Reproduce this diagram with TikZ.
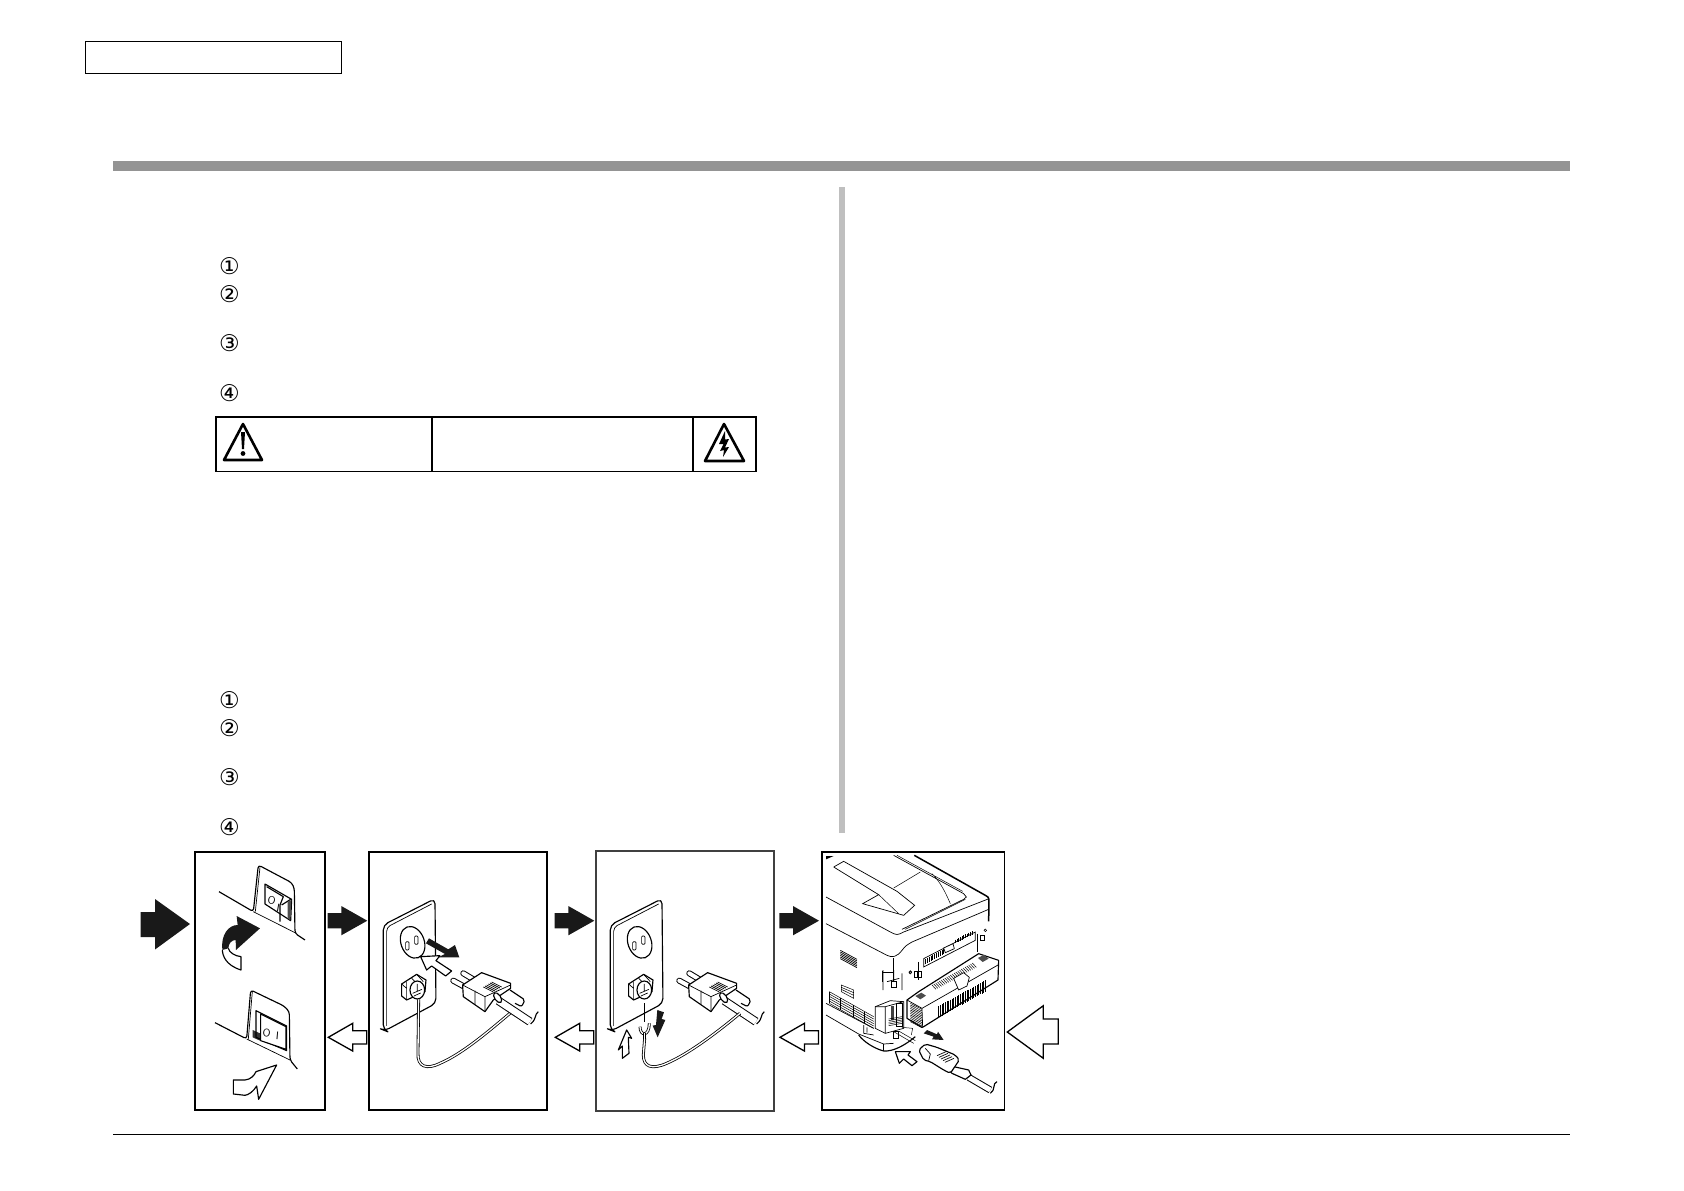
\documentclass[tikz,border=0pt]{standalone}
\usepackage{fontspec}
\newfontfamily\circfont{DejaVu Sans}
\tikzset{
  panel/.style={draw, line width=1.8pt},
  frame/.style={draw, line width=0.9pt},
  rule/.style={fill=black!42},
  solidarrow/.style={fill=black!90},
  openarrow/.style={draw, fill=white, line width=1.3pt, miter limit=8},
  sketch/.style={line width=1.15pt, line join=round},
  fine/.style={line width=0.7pt},
  hair/.style={line width=0.5pt},
  wire/.style={double=white, double distance=1.3pt, line width=0.8pt},
  cable/.style={double=white, double distance=6.5pt, line width=1pt},
  digit/.style={font=\circfont\fontsize{23}{26}\selectfont, inner sep=0pt},
  rocker/.style={font=\sffamily\fontsize{11}{11}\selectfont, inner sep=0pt},
  figa/.style={shift={(130,840)}, x=0.3333pt, y=-0.3333pt},
  figb/.style={shift={(560,840)}, x=0.3333pt, y=-0.3333pt},
  figc/.style={shift={(822,852)}, x=0.3333pt, y=-0.3333pt},
  figd/.style={shift={(822,970)}, x=0.3333pt, y=-0.3333pt}
}
% socket plate and plug, used twice
\newcommand{\wallplate}{
  \draw[sketch, fill=white, rounded corners=5pt] (760,570) -- (760,255) -- (915,176) -- (918,490) -- (765,572) -- cycle;
  \draw[fine, rounded corners=4pt] (770,558) -- (770,262) -- (905,192);
  \draw[sketch, rotate around={20:(848,307)}] (848,307) ellipse (35 and 49);
  \draw[fine, rounded corners=1pt] (827,305) rectangle (837,330);
  \draw[fine, rounded corners=1pt] (854,288) rectangle (864,313);
  \draw[sketch, fill=white] (815,432) -- (860,403) -- (888,420) -- (885,455) -- (830,480) -- (815,468) -- cycle;
  \draw[fine] (830,425) -- (830,478) (815,432) -- (830,445) (845,415) -- (860,430) (860,403) -- (880,425);
  \draw[sketch, fill=white] (862,450) ellipse (22 and 27);
  \draw[fine] (862,432) -- (862,455) (848,460) -- (876,448) (852,468) -- (872,459);
}
\newcommand{\plugbody}{
  \draw[line width=6pt, line cap=round] (1000,400) -- (1030,418) (970,422) -- (1003,440);
  \draw[white, line width=4pt, line cap=round] (1000,400) -- (1030,418) (970,422) -- (1003,440);
  \draw[sketch, rounded corners=2pt] (1140,450) -- (1185,480) -- (1175,500) -- (1155,490);
  \draw[cable] (1105,482) -- (1200,545);
  \draw[sketch] (1225,515) .. controls (1212,525) and (1222,535) .. (1202,552);
  \draw[sketch, fill=white, line join=round] (998,435) -- (1055,398) -- (1142,430) -- (1142,445) -- (1090,480) -- (1065,515) -- (1000,470) -- cycle;
  \draw[fine] (998,435) -- (1065,470) -- (1065,515) (1065,470) -- (1142,435) (1035,452) -- (1035,493);
  \foreach \i in {0,...,5}
    \draw[fine] (1060+5*\i,441-3*\i) -- (1090+5*\i,456-3*\i);
  \draw[sketch, fill=white, rotate around={35:(1103,473)}] (1103,473) ellipse (9 and 17);
}
\begin{document}
\begin{tikzpicture}[x=1pt, y=-1pt]
    \useasboundingbox (0,0) rectangle (1684,1191);
    % page furniture
    \draw[frame] (85,41) rectangle (341.5,73);
    \fill[rule] (113,161) rectangle (1570,171);
    \fill[black!25] (839,187) rectangle (845,833);
    \draw[fine] (113,1134) -- (1570,1134);
    % numbered steps
    \node[digit] (onea) at (229.5,266) {①};
    \node[digit] (twoa) at (229.5,294) {②};
    \node[digit] (threea) at (229.5,343) {③};
    \node[digit] (foura) at (229.5,393) {④};
    \node[digit] (oneb) at (229.5,700) {①};
    \node[digit] (twob) at (229.5,728) {②};
    \node[digit] (threeb) at (229.5,777) {③};
    \node[digit] (fourb) at (229.5,827) {④};
    % warning table
    \draw[line width=1.8pt] (216,417) rectangle (756,471.5);
    \draw[line width=1.8pt] (432,417) -- (432,471.5) (693,417) -- (693,471.5);
    \draw[line width=2.6pt, line join=round] (243,424) -- (262,460) -- (224,460) -- cycle;
    \fill (241,432) -- (245,432) -- (244,449) -- (242,449) -- cycle;
    \fill (243,453.5) circle (2.4);
    \draw[line width=2.6pt, line join=round] (724,424) -- (744,461) -- (705,461) -- cycle;
    \fill (725,431) -- (719,444) -- (723.5,444) -- (720,451) -- (724,450) -- (723,457) -- (729,447) -- (725,447.5) -- (729,439) -- (725,439.5) -- cycle;
    % panels
    \draw[panel] (195,852) rectangle (325,1110);
    \draw[panel] (369,852) rectangle (547,1110);
    \draw[panel, black!75] (596,851) rectangle (774,1111);
    \draw[panel] (822,852) rectangle (1004.5,1110);
    % block arrows
    \fill[solidarrow] (140.7,912) -- (155,912) -- (155,899) -- (190,924) -- (155,949.5) -- (155,937) -- (140.7,937) -- cycle;
    \foreach \dx in {0,227,451.7}
      \fill[solidarrow, xshift=\dx] (327.7,913) -- (341.3,913) -- (341.3,906) -- (367.3,920.7) -- (341.3,935.3) -- (341.3,928.3) -- (327.7,928.3) -- cycle;
    \foreach \dx in {0,227,451.7}
      \draw[openarrow, xshift=\dx] (328.3,1037.3) -- (352.7,1023.3) -- (352.7,1030.7) -- (366.7,1030.7) -- (366.7,1044) -- (352.7,1044) -- (352.7,1051) -- cycle;
    \draw[openarrow] (1007.3,1032) -- (1043.3,1005.7) -- (1043.3,1019) -- (1058.3,1019) -- (1058.3,1044) -- (1043.3,1044) -- (1043.3,1058.3) -- cycle;
    % switch panel
    \begin{scope}[figa]
      \draw[sketch, rounded corners=3pt] (267,155) -- (370,215) -- (385,75) -- (485,128) -- (493,145) -- (495,280) -- (525,300);
      \draw[fine] (370,215) -- (495,278) (376,215) -- (390,82);
      \draw[sketch] (405,132) -- (485,178) -- (482,242) -- (405,192) -- cycle;
      \draw[sketch] (410,140) -- (460,170) -- (450,195) -- (450,245) (455,195) -- (482,178);
      \fill[black!70] (473,185) -- (484,180) -- (481,240) -- (473,236) -- cycle;
      \node[rocker, rotate=-10] (offa) at (425,182) {O};
      \node[rocker, rotate=-10] (ona) at (445,205) {I};
      \draw[sketch, rounded corners=3pt] (255,548) -- (350,597) -- (362,450) -- (462,498) -- (478,515) -- (480,660) -- (502,687);
      \draw[fine] (350,597) -- (480,660) (355,597) -- (367,455);
      \fill[black!80] (368,570) -- (390,580) -- (390,602) -- (368,592) -- cycle;
      \draw[sketch] (378,512) -- (470,558) -- (470,632) -- (378,592) -- cycle;
      \draw[sketch, fill=white] (392,522) -- (468,560) -- (468,628) -- (392,602) -- cycle;
      \node[rocker, rotate=-5] (offb) at (410,580) {O};
      \node[rocker, rotate=-5] (onb) at (442,589) {I};
      % curved arrows
      \fill[solidarrow] (277,330) .. controls (272,285) and (295,255) .. (323,255) -- (320,228) -- (390,265) -- (318,330) -- (317,300) .. controls (305,300) and (296,310) .. (295,325) -- cycle;
      \draw[sketch] (277,330) .. controls (278,345) and (285,375) .. (333,390) -- (333,350) .. controls (315,348) and (298,338) .. (295,325);
      \draw[sketch, fill=white] (310,720) -- (345,720) .. controls (362,718) and (372,708) .. (378,695) -- (440,675) -- (386,778) -- (380,738) .. controls (370,755) and (355,765) .. (345,766) -- (310,762) -- cycle;
    \end{scope}
    % unplugged socket
    \begin{scope}[figa]
      \wallplate
      \draw[wire] (866,478) -- (864,640) .. controls (862,680) and (890,690) .. (930,670) .. controls (1000,640) and (1080,570) .. (1140,520);
      \plugbody
      \fill[solidarrow] (897,295) -- (955,328) -- (975,315) -- (988,352) -- (925,352) -- (945,342) -- (888,310) -- cycle;
      \draw[sketch, fill=white] (872,350) -- (930,347) -- (918,362) -- (965,393) -- (947,408) -- (905,378) -- (890,390) -- cycle;
    \end{scope}
    % earth wire socket
    \begin{scope}[shift={(357,840)}, x=0.3333pt, y=-0.3333pt]
      \wallplate
    \end{scope}
    \begin{scope}[shift={(356,840)}, x=0.3333pt, y=-0.3333pt]
      \plugbody
    \end{scope}
    \begin{scope}[figb]
      \draw[wire] (254,595) -- (250,645) .. controls (250,680) and (275,690) .. (320,670) .. controls (390,640) and (480,570) .. (540,520);
      \draw[fine] (254,490) -- (254,545);
      \draw[wire] (240,560) .. controls (240,590) and (268,590) .. (268,550);
      \draw[wire] (254,580) -- (254,596);
      \fill[solidarrow] (292,510) -- (312,517) -- (305,537) -- (316,540) -- (293,592) -- (278,557) -- (288,555) -- cycle;
      \draw[sketch, fill=white] (200,570) -- (215,595) -- (205,592) -- (207,640) -- (187,655) -- (187,618) -- (175,630) -- cycle;
    \end{scope}
    % printer top
    \begin{scope}[figc]
      \fill (12,22) -- (12,12) -- (35,12) -- cycle;
      \draw[line width=1.5pt] (277,10) -- (490,130) .. controls (500,136) .. (501,148) -- (500,208);
      \draw[fine] (12,135) -- (205,240) .. controls (225,250) .. (245,240) -- (501,140);
      \draw[fine] (12,215) -- (195,310) .. controls (210,318) and (225,315) .. (240,295) .. controls (250,282) .. (270,270) -- (500,172);
      \draw[fine] (215,318) -- (215,390);
      \draw[fine] (35,45) -- (65,28) -- (225,118) -- (278,160) -- (245,190) -- (122,155) -- (170,128) -- (35,45);
      \draw[hair] (170,128) -- (230,185) (215,108) -- (295,60);
      \draw[fine] (215,10) -- (425,125) -- (433,135) -- (425,142) -- (240,232);
      \draw[hair] (225,10) -- (422,118) (330,65) .. controls (355,90) and (370,120) .. (385,155) (250,232) -- (430,142);
      % vents and connectors
      \foreach \i in {0,...,5}
        \draw[fine] (55,295+5*\i) -- (105,322+5*\i);
      \draw[fine] (305,320) -- (460,240) -- (460,265) -- (305,345) -- cycle;
      \foreach \i in {0,...,10}
        \draw[hair] (310+5.5*\i,322-3*\i) -- (310+5.5*\i,336-3*\i);
      \foreach \i in {0,...,10}
        \draw[hair] (400+5*\i,263-2.6*\i) -- (400+5*\i,274-2.6*\i);
      \draw[fine, fill=white] (365,288) -- (393,275) -- (397,290) -- (370,302) -- cycle;
      \draw[fine] (465,245) -- (465,300) (476,250) rectangle (486,265);
      \draw[hair] (490,235) circle (4);
      \draw[fine] (290,330) -- (290,385) (276,358) rectangle (290,375);
      \draw[hair] (265,360) circle (4);
      \draw[fine] (180,360) -- (215,360) (180,358) -- (180,390);
    \end{scope}
    % printer base
    \begin{scope}[figd]
      % side grilles
      \draw[fine] (183,0) -- (183,60) (240,10) -- (240,60) (215,0) -- (215,35) (195,35) -- (232,25);
      \draw[fine] (208,35) rectangle (222,52);
      \draw[hair] (285,5) rectangle (297,22);
      \draw[hair] (265,8) circle (4);
      \draw[hair] (58,45) -- (95,60) -- (95,85) -- (58,65) -- cycle (58,52) -- (95,68) (58,58) -- (95,76);
      \foreach \i in {0,...,5}
        \draw[hair] (22,65+7*\i) -- (155,140+7*\i);
      \foreach \x/\y in {22/65,55/84,95/106,128/125}
        \draw[hair] (\x,\y) -- (\x,\y+35);
      \draw[fine] (12,135) -- (110,192) -- (185,222) -- (215,220);
      \draw[fine] (12,100) -- (155,175);
      \draw[sketch] (110,195) .. controls (125,215) and (155,235) .. (185,243) .. controls (215,245) and (250,225) .. (280,200);
      \draw[hair] (185,222) -- (185,243);
      \draw[fine] (125,165) -- (125,190) -- (155,195) (135,172) -- (135,188);
      % lower module
      \draw[sketch, fill=white] (255,90) -- (290,65) -- (470,-49) -- (530,-29) -- (528,30) -- (305,170) -- (300,172) -- (255,145) -- cycle;
      \draw[fine] (255,90) -- (300,115) -- (302,172) (300,115) -- (528,-15);
      \foreach \i in {0,...,11}
        \draw[hair] (265,100+5*\i) -- (300,118+5*\i);
      \fill[black!70] (280,78) -- (298,68) -- (312,77) -- (295,88) -- cycle;
      \fill[black!70] (468,-36) -- (486,-46) -- (500,-34) -- (482,-24) -- cycle;
      \foreach \i in {0,...,28}
        \draw[hair] (350+5*\i,108-2.75*\i) -- (350+5*\i,142-2.75*\i);
      \foreach \i in {0,...,22}
        \draw[hair] (330+5.5*\i,45-3*\i) -- (342+5.5*\i,58-3*\i);
      \draw[fine, fill=white] (395,25) -- (425,8) -- (442,22) -- (435,48) -- (410,60) -- cycle;
      % socket housing
      \draw[fine, fill=white] (160,110) -- (205,92) -- (245,95) -- (245,175) -- (190,190) -- (160,175) -- cycle;
      \draw[fine] (190,110) -- (190,190) (160,110) -- (190,110) -- (245,95);
      \fill[black!75] (207,108) rectangle (216,150);
      \draw[hair] (222,100) rectangle (240,170);
      \foreach \i in {0,...,4}
        \draw[hair] (200,147+5*\i) -- (240,140+5*\i);
      \draw[fine] (215,185) rectangle (230,205);
      \draw[hair] (215,185) -- (275,220) (230,183) -- (280,212) (240,172) -- (272,175) -- (268,195);
      % lead
      \draw[cable, double distance=5pt] (440,322) -- (505,360);
      \draw[sketch] (525,335) .. controls (510,340) and (522,360) .. (505,370);
      \draw[sketch, fill=white] (385,305) -- (395,290) -- (440,300) -- (447,315) -- (430,328) -- (390,310) -- cycle;
      \draw[sketch, fill=white, rounded corners=2pt] (290,240) -- (310,222) -- (345,232) -- (400,255) -- (412,270) -- (385,310) -- (365,300) -- (325,275) -- (305,270) -- cycle;
      \draw[fine] (310,235) -- (325,252) -- (320,272);
      \foreach \i in {0,...,4}
        \draw[fine] (345+6*\i,257+5*\i) -- (372+6*\i,245+5*\i);
      % arrows
      \fill[solidarrow] (315,180) -- (345,193) -- (348,185) -- (365,210) -- (330,208) -- (335,200) -- (305,190) -- cycle;
      \draw[sketch, fill=white] (220,245) -- (265,245) -- (258,255) -- (285,275) -- (270,287) -- (245,267) -- (232,280) -- cycle;
    \end{scope}
\end{tikzpicture}
\end{document}
